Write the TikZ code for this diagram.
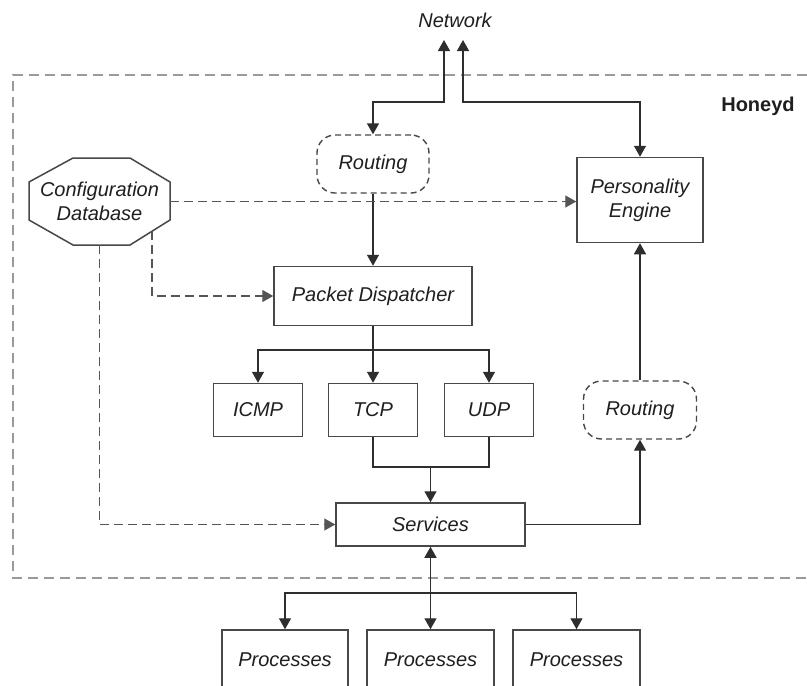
\documentclass[tikz,border=0pt]{standalone}
\usepackage{fontspec}
\setmainfont{Liberation Sans}
\usetikzlibrary{arrows.meta}
\definecolor{ln}{HTML}{2E2E2E}
\definecolor{bx}{HTML}{484848}
\definecolor{dl}{HTML}{555555}
\definecolor{brd}{HTML}{9A9A9A}
\begin{document}
\begin{tikzpicture}[x=1pt,y=-1pt,
  lbl/.style={font=\fontsize{20}{24}\selectfont\itshape, text=black!88, align=center},
  box/.style={lbl, draw=bx, line width=1.5pt, rectangle, inner sep=0pt},
  rout/.style={lbl, draw=bx, line width=1.4pt, dash pattern=on 6pt off 4pt, rounded corners=18pt, inner sep=0pt, minimum width=112pt, minimum height=58pt},
  conn/.style={draw=ln, line width=1.4pt},
  tip/.tip={Triangle[length=11pt,width=12pt]},
  arr/.style={conn, -tip},
  barr/.style={conn, tip-tip},
  darr/.style={draw=dl, line width=1.4pt, dash pattern=on 9pt off 5pt, -tip},
]
\useasboundingbox (0,0) rectangle (807,686);
\clip (0,0) rectangle (807,686);
\fill[white] (0,0) rectangle (807,686);

% Honeyd boundary
\draw[brd, line width=1.5pt, dash pattern=on 10pt off 6pt] (807,75) -- (13,75) -- (13,578) -- (807,578);
\node[font=\fontsize{20}{24}\selectfont\bfseries, text=black!88] (hd) at (758,106) {Honeyd};

% Nodes
\node[lbl] (net) at (455,20) {Network};
\node[rout] (rt1) at (373,164) {Routing};
\node[box, minimum width=126pt, minimum height=85pt] (pe) at (640,200) {Personality\\Engine};
\node[lbl, minimum width=141pt, minimum height=87pt, inner sep=0pt] (cfg) at (99.5,201.5) {Configuration\\Database};
\draw[bx, line width=1.5pt] (73,158) -- (130,158) -- (170,182) -- (170,220) -- (130,245) -- (73,245) -- (29,220) -- (29,182) -- cycle;
\node[box, minimum width=198pt, minimum height=59pt] (pd) at (373,296) {Packet Dispatcher};
\node[box, minimum width=89pt, minimum height=53pt] (icmp) at (258,410) {ICMP};
\node[box, minimum width=89pt, minimum height=53pt] (tcp) at (373,410) {TCP};
\node[box, minimum width=89pt, minimum height=53pt] (udp) at (489,410) {UDP};
\node[rout, minimum width=113pt] (rt2) at (640,410) {Routing};
\node[box, minimum width=189pt, minimum height=43pt] (sv) at (430.5,524.5) {Services};
\node[box, minimum width=126pt, minimum height=60pt] (p1) at (285,660) {Processes};
\node[box, minimum width=127pt, minimum height=60pt] (p2) at (430.5,660) {Processes};
\node[box, minimum width=127pt, minimum height=60pt] (p3) at (576.5,660) {Processes};

% coordinates
\coordinate (n1) at (444,40);
\coordinate (n2) at (463,40);
\coordinate (j1) at (444,102);
\coordinate (j2) at (463,102);
\coordinate (b1) at (373,350);
\coordinate (m) at (430.5,467);
\coordinate (b2) at (430.5,593);
\coordinate (c1) at (152,231);

% Network connections
\draw[barr] (n1) -- (j1) -| (rt1.north);
\draw[barr] (n2) -- (j2) -| (pe.north);

% Routing to dispatcher
\draw[arr] (rt1.south) -- (pd.north);

% Dispatcher to protocols
\draw[conn] (pd.south) -- (b1);
\draw[arr] (b1) -| (icmp.north);
\draw[arr] (b1) -| (udp.north);
\draw[arr] (b1) -- (tcp.north);

% protocols to services
\draw[conn] (tcp.south) |- (m) -| (udp.south);
\draw[arr] (m) -- (sv.north);

% services to routing to personality
\draw[arr] (sv.east) -| (rt2.south);
\draw[arr] (rt2.north) -- (pe.south);

% config database connections
\draw[darr] (cfg.east) -- (cfg.east -| pe.west);
\draw[darr] (c1) |- (pd.west);
\draw[darr] (cfg.south) |- (sv.west);

% services to processes
\draw[barr] (sv.south) -- (p2.north);
\draw[arr] (b2) -| (p1.north);
\draw[arr] (b2) -| (p3.north);
\end{tikzpicture}
\end{document}
